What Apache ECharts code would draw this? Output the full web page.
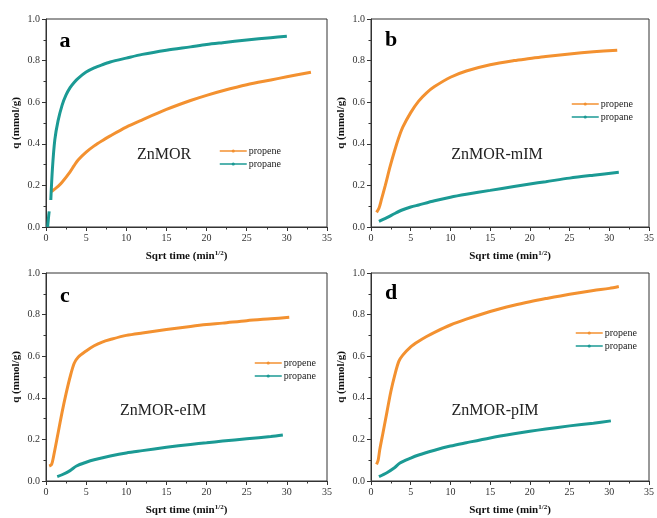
<!DOCTYPE html>
<html>
<head>
<meta charset="utf-8">
<script src="https://cdn.jsdelivr.net/npm/echarts@6/dist/echarts.min.js"></script>
<style>
  html, body { margin: 0; padding: 0; background: #fff; }
  #chart { width: 657px; height: 518px; }
</style>
</head>
<body>
<div id="chart"></div>
<script>
// 数据 (x = sqrt time, y = q)
const xTicks = [0, 5, 10, 15, 20, 25, 30, 35];
const yTicks = [0.0, 0.2, 0.4, 0.6, 0.8, 1.0];
const panelLetters = ['a', 'b', 'c', 'd'];
const sampleNames = ['ZnMOR', 'ZnMOR-mIM', 'ZnMOR-eIM', 'ZnMOR-pIM'];

const aPropene = [[0.7,0.17],[1,0.18],[1.5,0.195],[2,0.215],[3,0.265],[3.5,0.295],[4,0.322],[5,0.36],[6,0.39],[7,0.415],[8,0.438],[10,0.48],[12,0.515],[15,0.565],[18,0.608],[20,0.633],[22,0.655],[25,0.684],[28,0.707],[30,0.722],[33,0.744]];
const aPropane = [[0.2,0],[0.25,0.02],[0.3,0.04],[0.35,0.06],[0.4,0.075],[0.5,null],[0.6,0.13],[0.8,0.28],[1.1,0.42],[1.5,0.51],[2,0.585],[2.5,0.635],[3,0.67],[3.5,0.695],[4,0.715],[5,0.745],[6,0.765],[7,0.78],[8,0.793],[10,0.812],[12,0.83],[15,0.85],[18,0.866],[20,0.877],[22,0.886],[25,0.899],[28,0.91],[30,0.917]];

const bPropene = [[0.7,0.07],[1,0.09],[1.3,0.13],[1.8,0.2],[2.4,0.29],[3,0.37],[3.5,0.43],[4,0.48],[5,0.55],[6,0.605],[7,0.645],[8,0.675],[10,0.72],[12,0.75],[15,0.78],[18,0.8],[20,0.81],[22,0.82],[25,0.832],[28,0.842],[31,0.85]];
const bPropane = [[1,0.027],[2,0.045],[3,0.065],[4,0.083],[5,0.096],[6,0.106],[8,0.126],[10,0.143],[12,0.157],[15,0.176],[18,0.195],[20,0.207],[22,0.218],[25,0.235],[28,0.249],[31.2,0.263]];

const cPropene = [[0.4,0.072],[0.7,0.08],[1,0.13],[1.5,0.23],[2,0.33],[2.5,0.42],[3,0.5],[3.5,0.565],[4,0.595],[5,0.625],[6,0.65],[7,0.668],[8,0.68],[10,0.7],[12,0.712],[15,0.728],[18,0.743],[20,0.752],[22,0.759],[25,0.771],[28,0.78],[30.3,0.787]];
const cPropane = [[1.4,0.021],[2,0.03],[3,0.05],[3.8,0.072],[5,0.09],[6,0.102],[8,0.12],[10,0.135],[12,0.146],[15,0.162],[18,0.176],[20,0.184],[22,0.192],[25,0.203],[28,0.214],[29.5,0.221]];

const dPropene = [[0.7,0.08],[0.9,0.1],[1.1,0.15],[1.5,0.23],[2,0.33],[2.5,0.43],[3,0.51],[3.5,0.575],[4,0.605],[5,0.645],[6,0.672],[7,0.695],[8,0.715],[10,0.75],[12,0.778],[15,0.815],[18,0.845],[20,0.862],[22,0.877],[25,0.898],[28,0.916],[30,0.926],[31.2,0.935]];
const dPropane = [[1,0.021],[2,0.04],[3,0.065],[3.6,0.085],[5,0.11],[6,0.125],[8,0.148],[10,0.168],[12,0.184],[15,0.207],[18,0.227],[20,0.239],[22,0.25],[25,0.265],[28,0.278],[30.2,0.289]];

const propeneSets = [aPropene, bPropene, cPropene, dPropene];
const propaneSets = [aPropane, bPropane, cPropane, dPropane];

const FONT = '"Liberation Serif", "DejaVu Serif", serif';
const ORANGE = '#F39130';
const TEAL = '#1B9A94';
const AXIS = '#333';

// 四个子图的位置
const grids = [
  { left: 46, top: 19, width: 281, height: 208 },
  { left: 371, top: 19, width: 281, height: 208 },
  { left: 46, top: 273, width: 281, height: 208 },
  { left: 371, top: 273, width: 281, height: 208 },
];
const legendPos = [
  { left: 219, top: 146 },
  { left: 571, top: 99 },
  { left: 254, top: 358 },
  { left: 575, top: 328 },
];
const namePos = [[164, 155], [497, 155], [163, 411], [495, 411]];
const letterPos = [[65, 41], [391, 40], [65, 296], [391, 293]];

const chart = echarts.init(document.getElementById('chart'));

const xAxes = grids.map((g, i) => ({
  type: 'value',
  gridIndex: i,
  min: xTicks[0],
  max: xTicks[xTicks.length - 1],
  interval: 5,
  name: 'Sqrt time (min{sup|1/2})',
  nameLocation: 'middle',
  nameGap: 23,
  nameTextStyle: {
    fontFamily: FONT, fontWeight: 'bold', fontSize: 11, color: '#111',
    rich: { sup: { fontFamily: FONT, fontWeight: 'bold', fontSize: 7, color: '#111', verticalAlign: 'top', padding: [0, 0, 6, 0] } },
  },
  axisLine: { show: true, lineStyle: { color: AXIS, width: 1 } },
  axisTick: { show: true, inside: false, length: 4, lineStyle: { color: AXIS } },
  minorTick: { show: true, splitNumber: 2, length: 2.5, lineStyle: { color: AXIS } },
  axisLabel: { fontFamily: FONT, fontSize: 10, color: '#333', margin: 6 },
  splitLine: { show: false },
}));

const yAxes = grids.map((g, i) => ({
  type: 'value',
  gridIndex: i,
  min: yTicks[0],
  max: yTicks[yTicks.length - 1],
  interval: 0.2,
  name: 'q (mmol/g)',
  nameLocation: 'middle',
  nameGap: 24,
  nameTextStyle: { fontFamily: FONT, fontWeight: 'bold', fontSize: 11, color: '#111' },
  axisLine: { show: true, lineStyle: { color: AXIS, width: 1 } },
  axisTick: { show: true, inside: false, length: 4, lineStyle: { color: AXIS } },
  minorTick: { show: true, splitNumber: 2, length: 2.5, lineStyle: { color: AXIS } },
  axisLabel: { fontFamily: FONT, fontSize: 10, color: '#333', margin: 6, formatter: (v) => v.toFixed(1) },
  splitLine: { show: false },
}));

const series = [];
grids.forEach((g, i) => {
  series.push({
    name: 'propene', type: 'line', xAxisIndex: i, yAxisIndex: i,
    data: propeneSets[i], showSymbol: false, symbol: 'circle', symbolSize: 3,
    smooth: 0.3, lineStyle: { color: ORANGE, width: 3 }, itemStyle: { color: ORANGE },
  });
  series.push({
    name: 'propane', type: 'line', xAxisIndex: i, yAxisIndex: i,
    data: propaneSets[i], showSymbol: false, symbol: 'circle', symbolSize: 3,
    smooth: 0.3, lineStyle: { color: TEAL, width: 3 }, itemStyle: { color: TEAL },
  });
});

const legends = legendPos.map((p) => ({
  left: p.left, top: p.top, orient: 'vertical', padding: 0,
  itemWidth: 27, itemHeight: 4, itemGap: 3,
  data: ['propene', 'propane'],
  lineStyle: { width: 1.5 },
  textStyle: { fontFamily: FONT, fontSize: 10, color: '#222', padding: [0, 0, 0, -3] },
  selectedMode: false,
}));

const graphics = [];
panelLetters.forEach((t, i) => {
  graphics.push({
    type: 'text', x: letterPos[i][0], y: letterPos[i][1],
    style: { text: t, font: 'bold 22px ' + FONT, fill: '#000', align: 'center', verticalAlign: 'middle' },
  });
  graphics.push({
    type: 'text', x: namePos[i][0], y: namePos[i][1],
    style: { text: sampleNames[i], font: '16px ' + FONT, fill: '#222', align: 'center', verticalAlign: 'middle' },
  });
});

chart.setOption({
  animation: false,
  backgroundColor: '#fff',
  grid: grids.map((g) => Object.assign({ show: true, borderColor: AXIS, borderWidth: 1, backgroundColor: 'transparent' }, g)),
  xAxis: xAxes,
  yAxis: yAxes,
  legend: legends,
  series: series,
  graphic: graphics,
});
</script>
</body>
</html>
